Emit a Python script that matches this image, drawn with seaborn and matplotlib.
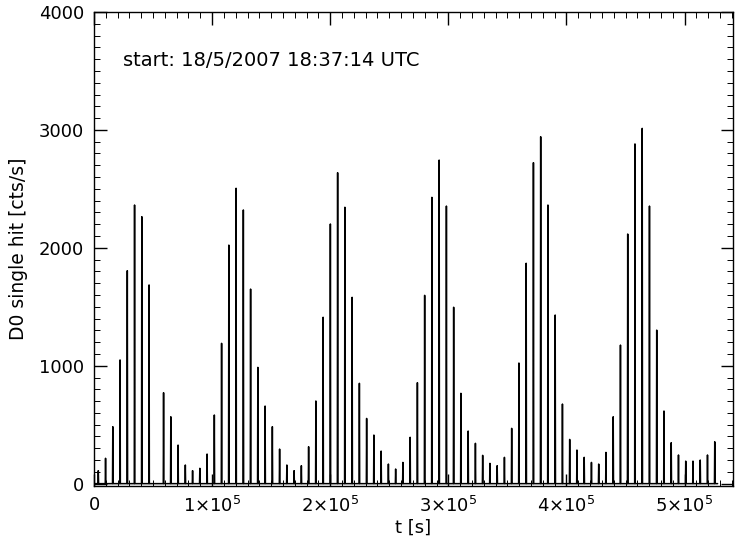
import numpy as np
import pandas as pd
import matplotlib
matplotlib.use("Agg")
import matplotlib.pyplot as plt
from matplotlib.ticker import MultipleLocator, FixedLocator, FuncFormatter
import seaborn as sns

# ---- data ----
spike_times = [
    3640, 9780, 15920, 22060, 28200, 34340, 40480, 46620,
    58900, 65040, 71180, 77320, 83460, 89600, 95740, 101880, 108020, 114160,
    120300, 126440, 132580, 138720, 144860, 151000, 157140, 163280, 169420,
    175560, 181700, 187840, 193980, 200120, 206260, 212400, 218540, 224680,
    230820, 236960, 243100, 249240, 255380, 261520, 267660, 273800, 279940,
    286080, 292220, 298360, 304500, 310640, 316780, 322920, 329060, 335200,
    341340, 347480, 353620, 359760, 365900, 372040, 378180, 384320, 390460,
    396600, 402740, 408880, 415020, 421160, 427300, 433440, 439580, 445720,
    451860, 458000, 464140, 470280, 476420, 482560, 488700, 494840, 500980,
    507120, 513260, 519400, 525540,
]
spike_rates = [
    110, 215, 483, 1049, 1806, 2363, 2264, 1685,
    771, 567, 327, 158, 110, 130, 251, 582, 1190, 2023,
    2505, 2321, 1650, 986, 658, 483, 293, 158, 110,
    152, 313, 701, 1411, 2202, 2637, 2344, 1580, 851,
    553, 412, 276, 166, 124, 180, 393, 856, 1597,
    2428, 2744, 2354, 1496, 766, 446, 342, 240, 172,
    152, 223, 469, 1023, 1869, 2722, 2942, 2363, 1430,
    675, 375, 285, 223, 180, 166, 265, 567, 1175,
    2117, 2881, 3013, 2354, 1302, 616, 347, 243, 191,
    191, 200, 243, 355,
]
baseline_rate = 0
data_start, data_end = 0, 528000
half_width = 250

x_ticks = [0, 100000, 200000, 300000, 400000, 500000]
y_ticks = [0, 1000, 2000, 3000, 4000]
start_text = "start: 18/5/2007 18:37:14 UTC"

# build the trace (baseline with narrow spikes)
ts, rs = [data_start], [baseline_rate]
for t, r in zip(spike_times, spike_rates):
    ts += [t - half_width, t, t + half_width]
    rs += [baseline_rate, r, baseline_rate]
ts.append(data_end)
rs.append(baseline_rate)
df = pd.DataFrame({"t": ts, "rate": rs})

sns.set_theme(style="ticks")
plt.rcParams["font.family"] = ["DejaVu Sans"]
plt.rcParams.update({
    "xtick.direction": "in", "ytick.direction": "in",
    "xtick.top": True, "ytick.right": True,
    "xtick.major.size": 9, "xtick.minor.size": 4.5,
    "ytick.major.size": 9, "ytick.minor.size": 4.5,
    "xtick.major.width": 1.0, "ytick.major.width": 1.0,
    "xtick.minor.width": 0.7, "ytick.minor.width": 0.7,
    "axes.linewidth": 1.0, "axes.edgecolor": "black",
    "xtick.color": "black", "ytick.color": "black",
    "text.color": "black", "axes.labelcolor": "black",
    "mathtext.fontset": "dejavusans",
})

fig = plt.figure(figsize=(7.39, 5.41), dpi=100)
ax = fig.add_axes([94 / 739, 1 - 486 / 541, (733 - 94) / 739, (486 - 12) / 541])

sns.lineplot(data=df, x="t", y="rate", ax=ax, color="black", linewidth=1.1,
             estimator=None, sort=False)

ax.set_xlim(0, 541000)
ax.set_ylim(-20, 4000)
ax.xaxis.set_major_locator(FixedLocator(x_ticks))
ax.xaxis.set_minor_locator(MultipleLocator(10000))
ax.yaxis.set_major_locator(FixedLocator(y_ticks))
ax.yaxis.set_minor_locator(MultipleLocator(100))


def xfmt(v, pos):
    if v == 0:
        return "0"
    return r"$%d{\times}10^{5}$" % round(v / 1e5)


ax.xaxis.set_major_formatter(FuncFormatter(xfmt))
ax.tick_params(axis="both", which="major", labelsize=13, pad=7)

ax.set_xlabel("t [s]", fontsize=13, labelpad=2)
ax.set_ylabel("D0 single hit [cts/s]", fontsize=13.5, labelpad=8)

ax.text(0.045, 0.898, start_text, transform=ax.transAxes, fontsize=14,
        ha="left", va="center")

for s in ax.spines.values():
    s.set_visible(True)
    s.set_color("black")

fig.savefig("out.png", dpi=100)
